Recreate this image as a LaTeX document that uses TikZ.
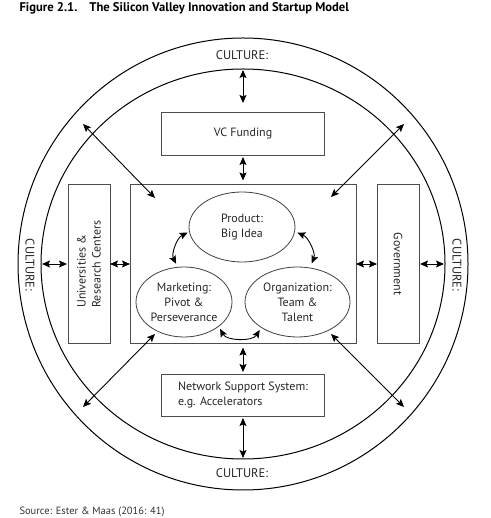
\documentclass[tikz,border=0pt]{standalone}
\usepackage{fontspec}
\setmainfont{PT Sans}
\usetikzlibrary{shapes.geometric,arrows.meta,positioning}

\begin{document}
\begin{tikzpicture}[
    x=1pt, y=1pt,
    font=\fontsize{12}{15}\selectfont,
    ring/.style={ellipse, draw, line width=1pt, inner sep=0pt, outer sep=0pt},
    block/.style={rectangle, draw=black!70, line width=0.7pt, text=black!85, text centered, inner sep=0pt, outer sep=0pt},
    idea/.style={ellipse, draw=black!75, line width=0.8pt, text=black!85, align=center, inner xsep=-10pt, inner ysep=0pt, outer sep=0pt},
    culture/.style={text=black!85, font=\fontsize{12.5}{15}\selectfont},
    arrow/.style={{Stealth[length=8pt,width=7pt,inset=1.5pt]}-{Stealth[length=8pt,width=7pt,inset=1.5pt]}, line width=0.9pt}
]
\useasboundingbox (0,0) rectangle (490,518);

% Title and source
\node[anchor=west, font=\fontsize{12.6}{14}\selectfont\bfseries] (title) at (16,510) {Figure 2.1.\hspace{12pt}The Silicon Valley Innovation and Startup Model};
\node[anchor=west, text=black!80, font=\fontsize{10.5}{12}\selectfont] (source) at (16,6.5) {Source: Ester \& Maas (2016: 41)};

% Culture rings
\node[ring, minimum width=450, minimum height=452] (outer) at (243,254) {};
\node[ring, minimum width=404, minimum height=390] (inner) at (243,254) {};
\node[culture] (cultop) at (242,463) {CULTURE:};
\node[culture] (culbot) at (242,45) {CULTURE:};
\node[culture, rotate=-90] (culleft) at (30,253) {CULTURE:};
\node[culture, rotate=-90] (culright) at (457,253) {CULTURE:};

% Boxes
\node[block, minimum width=226, minimum height=159] (core) at (243,254) {};
\node[block, minimum width=163, minimum height=43, above=29.5pt of core] (vc) {VC Funding};
\node[block, minimum width=163, minimum height=42, align=left, below=30.5pt of core] (net) {Network Support System:\\e.g. Accelerators};
\node[block, rotate=90, minimum width=159, minimum height=42, align=left] (univ) at (89,254) {Universities \&\\Research Centers};
\node[block, rotate=-90, minimum width=159, minimum height=42] (gov) at (398,254) {Government};

% Ideas
\node[idea, minimum width=106, minimum height=70] (prod) at (242,291) {Product:\\Big Idea};
\node[idea, minimum width=96, minimum height=70] (mkt) at (184,216) {Marketing:\\Pivot \&\\Perseverance};
\node[idea, minimum width=105, minimum height=70] (org) at (297.5,216) {Organization:\\Team \&\\Talent};

% Free ends of the diagonals
\coordinate (nwOut) at (83,394);
\coordinate (nwIn) at (155,320);
\coordinate (neOut) at (404,394);
\coordinate (neIn) at (331,321);
\coordinate (swOut) at (83,111);
\coordinate (swIn) at (155,184);
\coordinate (seOut) at (404,111);
\coordinate (seIn) at (331,184);

% Connections
\draw[arrow, shorten <=1pt, shorten >=9pt] (inner.north) -- (vc);
\draw[arrow, shorten <=2pt, shorten >=4pt] (vc) -- (core);
\draw[arrow, shorten <=4pt, shorten >=2pt] (core) -- (net);
\draw[arrow, shorten <=2pt, shorten >=1pt] (net) -- (inner.south);
\draw[arrow, shorten <=1pt, shorten >=1pt] (inner.west) -- (univ);
\draw[arrow] (univ) -- (core);
\draw[arrow] (core) -- (gov);
\draw[arrow, shorten <=1pt, shorten >=1pt] (gov) -- (inner.east);
\draw[arrow] (nwOut) -- (nwIn);
\draw[arrow] (neOut) -- (neIn);
\draw[arrow] (swIn) -- (swOut);
\draw[arrow] (seIn) -- (seOut);

% Links between the ideas
\draw[arrow, shorten <=4pt, shorten >=2pt] (mkt.100) to[bend left=45] (prod.185);
\draw[arrow, shorten <=3pt, shorten >=5pt] (prod.-5) to[bend left=45] (org.70);
\draw[arrow, shorten <=3pt, shorten >=3pt] (mkt.-35) to[bend right=60] (org.-145);

\end{tikzpicture}
\end{document}
